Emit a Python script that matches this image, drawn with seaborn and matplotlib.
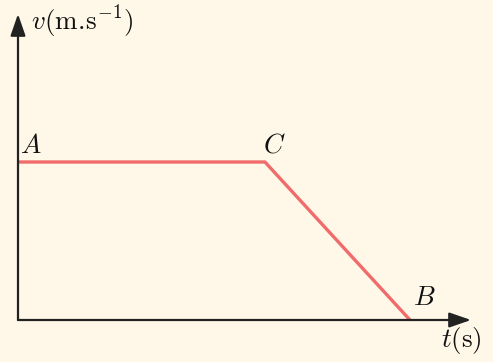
import matplotlib
matplotlib.use("Agg")
import matplotlib.pyplot as plt
import seaborn as sns
import pandas as pd

# Data
t_points = [0.0, 6.3, 10.0]
v_points = [10.0, 10.0, 0.0]
point_labels = ["A", "C", "B"]
x_label = r"$t(\mathrm{s})$"
y_label = r"$v(\mathrm{m.\!s^{-1}})$"

sns.set_theme(style="white")
plt.rcParams["mathtext.fontset"] = "cm"
plt.rcParams["font.family"] = ["DejaVu Serif"]

bg = "#FFF8E8"
fig = plt.figure(figsize=(4.93, 3.62), dpi=100, facecolor=bg)
ax = fig.add_axes([0, 0, 1, 1])
ax.set_facecolor(bg)

pxx = 39.2
pxy = 15.8
ax.set_xlim(-18 / pxx, (493 - 18) / pxx)
ax.set_ylim(-(362 - 320) / pxy, 320 / pxy)
ax.axis("off")

axis_col = "#222222"
# axes arrows
ax.annotate("", xy=(0, (320 - 14) / pxy), xytext=(0, 0),
            arrowprops=dict(arrowstyle="-|>,head_length=1.1,head_width=0.38",
                            color=axis_col, lw=1.6, shrinkA=0, shrinkB=0))
ax.annotate("", xy=((471 - 18) / pxx, 0), xytext=(0, 0),
            arrowprops=dict(arrowstyle="-|>,head_length=1.1,head_width=0.38",
                            color=axis_col, lw=1.6, shrinkA=0, shrinkB=0))

df = pd.DataFrame({"t": t_points, "v": v_points})
sns.lineplot(data=df, x="t", y="v", ax=ax, color="#F06B6B", lw=2.4,
             sort=False, solid_joinstyle="round", solid_capstyle="butt")

fs = 19.5
tc = "#111111"
ax.text(t_points[0] + 0.05, v_points[0] + 0.2, r"$%s$" % point_labels[0], fontsize=fs, ha="left", va="bottom", color=tc)
ax.text(t_points[1] - 0.05, v_points[1] + 0.2, r"$%s$" % point_labels[1], fontsize=fs, ha="left", va="bottom", color=tc)
ax.text(t_points[2] + 0.08, v_points[2] + 0.6, r"$%s$" % point_labels[2], fontsize=fs, ha="left", va="bottom", color=tc)
ax.text((31 - 18) / pxx, (320 - 22) / pxy, y_label, fontsize=fs, ha="left", va="center", color=tc)
ax.text((441 - 18) / pxx, -(340 - 320) / pxy, x_label, fontsize=fs, ha="left", va="center", color=tc)

fig.savefig("out.png", dpi=100, facecolor=bg)
